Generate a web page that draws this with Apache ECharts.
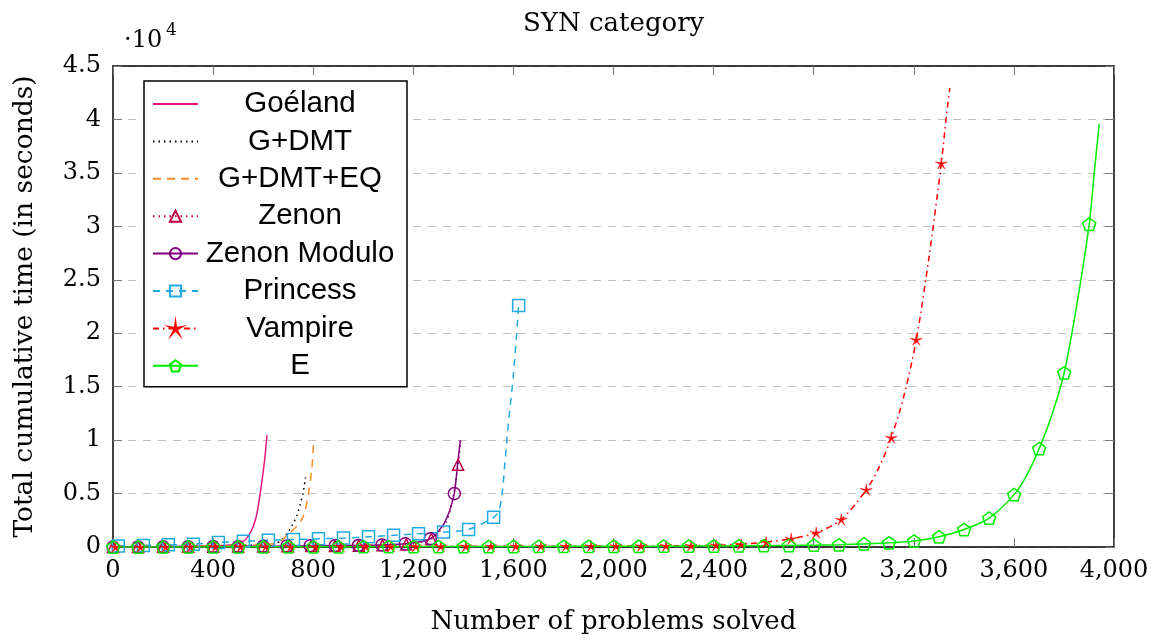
<!DOCTYPE html>
<html><head><meta charset="utf-8">
<script src="https://cdn.jsdelivr.net/npm/echarts@6/dist/echarts.min.js"></script>
<style>html,body{margin:0;padding:0;background:#fff}#c{width:1162px;height:640px}</style>
</head><body><div id="c"></div>
<script>
// ---- data (x = number of problems solved, y = cumulative seconds) ----
const xTicks = [0, 400, 800, 1200, 1600, 2000, 2400, 2800, 3200, 3600, 4000];
const yTicks = [0, 5000, 10000, 15000, 20000, 25000, 30000, 35000, 40000, 45000];

const goelandX = [0, 100, 200, 300, 400, 480, 520, 540, 560, 575, 588, 600, 608, 615];
const goelandY = [0, 15, 35, 60, 110, 220, 520, 1000, 1900, 3100, 5000, 7000, 8600, 10450];

const gdmtX = [0, 200, 400, 500, 600, 650, 668, 694, 714, 734, 748, 760, 769];
const gdmtY = [0, 40, 90, 130, 220, 350, 550, 1200, 1950, 2900, 4000, 5100, 6500];

const gdmteqX = [0, 200, 400, 500, 600, 650, 670, 700, 735, 761, 781, 795, 802];
const gdmteqY = [0, 40, 90, 130, 220, 350, 550, 1200, 1950, 2900, 5000, 7500, 10000];

const zenonMarkX = [0, 100, 200, 300, 400, 500, 600, 697, 792, 887, 982, 1077, 1172, 1272, 1379];
const zenonMarkY = [0, 8, 15, 22, 32, 42, 55, 70, 88, 105, 125, 160, 240, 750, 7700];
const zenonLineX = [1330, 1355, 1390];
const zenonLineY = [2300, 4200, 9900];

const zmodMarkX = [0, 100, 200, 300, 400, 500, 600, 695, 788, 888, 981, 1075, 1168, 1268, 1364];
const zmodMarkY = [0, 10, 20, 30, 40, 55, 70, 90, 110, 130, 150, 190, 300, 770, 5000];
const zmodLineX = [1320, 1345, 1375, 1388];
const zmodLineY = [2100, 3400, 7300, 10000];

const princessMarkX = [21, 121, 221, 321, 421, 521, 621, 721, 821, 921, 1021, 1121, 1221, 1321, 1421, 1521, 1621];
const princessMarkY = [100, 150, 200, 260, 420, 530, 630, 700, 770, 840, 950, 1100, 1230, 1400, 1640, 2780, 22600];
const princessLineX = [1541, 1555, 1568, 1581, 1600];
const princessLineY = [3340, 5000, 8400, 11800, 16100];

const vampireMarkX = [10, 110, 210, 310, 410, 510, 610, 710, 810, 910, 1010, 1110, 1210, 1310, 1410, 1510, 1610,
  1710, 1810, 1910, 2010, 2110, 2210, 2310, 2410, 2510, 2610, 2710, 2810, 2910, 3010, 3110, 3210, 3310];
const vampireMarkY = [0, 4, 9, 13, 18, 22, 27, 31, 36, 41, 45, 50, 54, 59, 63, 68, 72,
  77, 82, 88, 94, 101, 110, 125, 160, 250, 460, 770, 1330, 2570, 5350, 10230, 19400, 35900];
const vampireLineX = [3060, 3160, 3260, 3330, 3344];
const vampireLineY = [7400, 14100, 27000, 40300, 42950];

const eMarkX = [1, 101, 201, 301, 401, 501, 601, 701, 801, 901, 1001, 1101, 1201, 1301, 1401, 1501, 1601, 1701, 1801, 1901,
  2001, 2101, 2201, 2301, 2401, 2501, 2601, 2701, 2801, 2901, 3001, 3101, 3201, 3301, 3401, 3501, 3601, 3701, 3801, 3901];
const eMarkY = [0, 3, 6, 9, 12, 15, 18, 21, 24, 27, 30, 33, 36, 40, 44, 48, 52, 56, 60, 64,
  68, 72, 77, 83, 95, 110, 125, 145, 170, 210, 290, 390, 560, 960, 1640, 2700, 4900, 9200, 16300, 30200];
const eLineX = [3651, 3751, 3851, 3921, 3941];
const eLineY = [6700, 12300, 22600, 35000, 39600];

// ---- build ----
function build(markX, markY, lineX, lineY) {
  const pts = [];
  markX.forEach((x, i) => pts.push({ value: [x, markY[i]] }));
  (lineX || []).forEach((x, i) => pts.push({ value: [x, lineY[i]], symbol: 'none' }));
  pts.sort((a, b) => a.value[0] - b.value[0]);
  return pts;
}
function plain(xs, ys) { return xs.map((x, i) => [x, ys[i]]); }

const SERIF = 'DejaVu Serif';
const SANS = 'Liberation Sans';
const pentagon = 'path://M0,-1 L0.951,-0.309 L0.588,0.809 L-0.588,0.809 L-0.951,-0.309 Z';
const star = 'path://M0,-1 L0.12,-0.17 L0.951,-0.309 L0.2,0.065 L0.588,0.809 L0,0.21 L-0.588,0.809 L-0.2,0.065 L-0.951,-0.309 L-0.12,-0.17 Z';

function lineSeries(name, data, color, type, symbol, hollow, size) {
  const s = {
    name, type: 'line', data, xAxisIndex: 0, yAxisIndex: 0,
    smooth: 0.3, showAllSymbol: true,
    lineStyle: { color, width: 1.5, type },
    animation: false,
    emphasis: { disabled: true }
  };
  if (symbol) {
    s.symbol = symbol; s.symbolSize = size || 12; s.symbolKeepAspect = true;
    s.itemStyle = hollow ? { color: 'rgba(255,255,255,0)', borderColor: color, borderWidth: 1.5 }
                         : { color, borderColor: color, borderWidth: 0.5 };
  } else {
    s.symbol = 'none';
    s.itemStyle = { color };
  }
  return s;
}

const noMark = { color: 'rgba(0,0,0,0)', borderWidth: 0, borderColor: 'rgba(0,0,0,0)' };

const chart = echarts.init(document.getElementById('c'), null, { renderer: 'canvas' });
const tickStyle = { show: true, inside: true, length: 9, lineStyle: { color: '#7a7a7a', width: 1 } };
const lineAx = { show: true, onZero: false, lineStyle: { color: '#000', width: 1.5 } };

chart.setOption({
  backgroundColor: '#fff',
  animation: false,
  title: { text: 'SYN category', left: 518, top: 6,
    textStyle: { fontFamily: SERIF, fontSize: 26, fontWeight: 'normal', color: '#000' } },
  grid: { left: 113, right: 48, top: 66, bottom: 89, containLabel: false },
  legend: {
    orient: 'vertical', left: 144, top: 81,
    backgroundColor: '#fff', borderColor: '#000', borderWidth: 1.5,
    padding: [8, 10, 6, 8],
    itemWidth: 45, itemHeight: 14, itemGap: 7.4,
    formatter: n => '{t|' + n + '}',
    textStyle: { color: '#000', rich: { t: { width: 194, align: 'center', fontFamily: SANS, fontSize: 29.5, lineHeight: 30, color: '#000' } } },
    data: [
      { name: 'Goéland', itemStyle: noMark },
      { name: 'G+DMT', itemStyle: noMark },
      { name: 'G+DMT+EQ', itemStyle: noMark },
      'Zenon', 'Zenon Modulo', 'Princess', 'Vampire', 'E'
    ]
  },
  xAxis: [{
    type: 'value', min: xTicks[0], max: xTicks[xTicks.length - 1], interval: 400,
    name: 'Number of problems solved', nameLocation: 'middle', nameGap: 62,
    nameTextStyle: { fontFamily: SERIF, fontSize: 26, color: '#000' },
    axisLine: lineAx, axisTick: tickStyle,
    axisLabel: { fontFamily: SERIF, fontSize: 24, color: '#000', margin: 12,
      formatter: v => v.toLocaleString('en-US') },
    splitLine: { show: false }
  }, {
    type: 'value', position: 'top', min: xTicks[0], max: xTicks[xTicks.length - 1], interval: 400,
    axisLine: lineAx, axisTick: tickStyle, axisLabel: { show: false }, splitLine: { show: false }
  }],
  yAxis: [{
    type: 'value', min: yTicks[0], max: yTicks[yTicks.length - 1], interval: 5000,
    name: 'Total cumulative time (in seconds)', nameLocation: 'middle', nameGap: 74,
    nameTextStyle: { fontFamily: SERIF, fontSize: 26.5, color: '#000' },
    axisLine: lineAx, axisTick: tickStyle,
    axisLabel: { fontFamily: SERIF, fontSize: 24, color: '#000', margin: 12,
      formatter: v => String(v / 10000) },
    splitLine: { show: true, lineStyle: { color: '#c0c0c0', width: 1, type: [8, 7] } }
  }, {
    type: 'value', position: 'right', min: yTicks[0], max: yTicks[yTicks.length - 1], interval: 5000,
    axisLine: lineAx, axisTick: tickStyle, axisLabel: { show: false }, splitLine: { show: false }
  }],
  graphic: [
    { type: 'text', left: 124, top: 29, style: { text: '·10', font: '24px "DejaVu Serif"', fill: '#000' } },
    { type: 'text', left: 166, top: 22, style: { text: '4', font: '17px "DejaVu Serif"', fill: '#000' } }
  ],
  series: [
    lineSeries('Goéland', plain(goelandX, goelandY), '#E6157F', 'solid', null),
    lineSeries('G+DMT', plain(gdmtX, gdmtY), '#000000', [1.5, 4], null),
    lineSeries('G+DMT+EQ', plain(gdmteqX, gdmteqY), '#FA8C28', [8, 6], null),
    lineSeries('Zenon', build(zenonMarkX, zenonMarkY, zenonLineX, zenonLineY), '#BF0040', [1.5, 4], 'triangle', true, 11),
    lineSeries('Zenon Modulo', build(zmodMarkX, zmodMarkY, zmodLineX, zmodLineY), '#800080', 'solid', 'circle', true, 12),
    lineSeries('Princess', build(princessMarkX, princessMarkY, princessLineX, princessLineY), '#21A9E1', [7, 6], 'rect', true, 12),
    lineSeries('Vampire', build(vampireMarkX, vampireMarkY, vampireLineX, vampireLineY), '#FF0000', [6, 4, 1.5, 4], star, false, 12),
    lineSeries('E', build(eMarkX, eMarkY, eLineX, eLineY), '#00EE00', 'solid', pentagon, true, 13)
  ]
});
</script></body></html>
